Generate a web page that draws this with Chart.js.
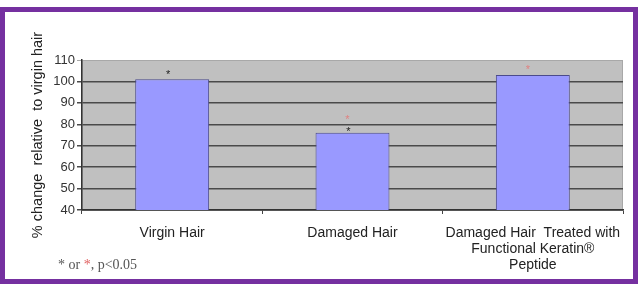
<!DOCTYPE html>
<html>
<head>
<meta charset="utf-8">
<script src="https://cdn.jsdelivr.net/npm/chart.js@4/dist/chart.umd.min.js"></script>
<style>
  body { margin: 0; background: #fff; }
  canvas { display: block; }
</style>
</head>
<body>
<canvas id="myChart" width="641" height="286"></canvas>
<script>
// values
const categories = ['Virgin Hair', 'Damaged Hair', ['Damaged Hair  Treated with', 'Functional Keratin®', 'Peptide']];
const changeValues = [101, 76, 103];
// where the significance stars sit (same y units), null = none
const blackStars = [104, 77.5, null];
const redStars = [null, 83, 106.5];
const yTicks = [40, 50, 60, 70, 80, 90, 100, 110];

const ctx = document.getElementById('myChart').getContext('2d');

const decor = {
  id: 'decor',
  beforeDraw(chart) {
    const c = chart.ctx, a = chart.chartArea;
    c.save();
    c.fillStyle = '#fff';
    c.fillRect(0, 0, chart.width, chart.height);
    c.fillStyle = '#c0c0c0';
    c.fillRect(a.left, a.top, a.right - a.left, a.bottom - a.top);
    c.strokeStyle = '#a8a8a8';
    c.lineWidth = 1;
    c.strokeRect(a.left + 0.5, a.top + 0.5, a.right - a.left - 1, a.bottom - a.top);
    c.restore();
  },
  afterDraw(chart) {
    const c = chart.ctx;
    const x = chart.scales.x, y = chart.scales.y;
    c.save();
    c.font = '11px "Liberation Sans", Arial, sans-serif';
    c.textAlign = 'center';
    c.textBaseline = 'middle';
    blackStars.forEach((v, i) => {
      if (v == null) return;
      c.fillStyle = '#222';
      c.fillText('*', x.getPixelForValue(i) - 4, y.getPixelForValue(v) + 2);
    });
    redStars.forEach((v, i) => {
      if (v == null) return;
      c.fillStyle = '#e08080';
      c.fillText('*', x.getPixelForValue(i) - 5, y.getPixelForValue(v) + 2);
    });
    // footnote
    c.font = '14px "Liberation Serif", "Times New Roman", serif';
    c.textAlign = 'left';
    c.textBaseline = 'middle';
    let px = 58;
    const parts = [['* or ', '#555'], ['*', '#e06060'], [', p<0.05', '#555']];
    parts.forEach(([t, col]) => {
      c.fillStyle = col;
      c.fillText(t, px, 265);
      px += c.measureText(t).width;
    });
    // purple frame
    c.strokeStyle = '#7530a0';
    c.lineWidth = 5;
    c.strokeRect(2.5, 9.5, 633, 272);
    c.restore();
  }
};

const chart = new Chart(ctx, {
  type: 'bar',
  data: {
    labels: categories,
    datasets: [{
      data: changeValues,
      backgroundColor: '#9999ff',
      borderColor: '#4b4b8c',
      borderWidth: 1,
      borderSkipped: 'bottom',
      barPercentage: 0.41,
      categoryPercentage: 1
    }]
  },
  options: {
    responsive: false,
    animation: false,
    layout: { padding: { left: 0, top: 60, right: 18, bottom: 0 } },
    plugins: { legend: { display: false }, tooltip: { enabled: false } },
    scales: {
      x: {
        afterFit: (s) => { s.height = 76; },
        grid: { offset: true, drawOnChartArea: false, tickLength: 4, color: '#444' },
        border: { color: '#333', width: 1.5 },
        ticks: {
          color: '#222',
          padding: 11,
          maxRotation: 0,
          autoSkip: false,
          font: { family: '"Liberation Sans", Arial, sans-serif', size: 14, lineHeight: 1.15 }
        }
      },
      y: {
        min: 40,
        max: 110,
        afterFit: (s) => { s.width = 82; },
        afterBuildTicks: (s) => { s.ticks = yTicks.map(v => ({ value: v })); },
        border: { color: '#333', width: 1.5 },
        grid: {
          color: (g) => g.tick && g.tick.value === 110 ? '#a8a8a8' : '#4a4a4a',
          lineWidth: (g) => g.tick && g.tick.value === 110 ? 1 : 1.5,
          tickLength: 5
        },
        ticks: {
          color: '#333',
          padding: 2,
          font: { family: '"Liberation Sans", Arial, sans-serif', size: 13 }
        },
        title: {
          display: true,
          text: '% change  relative  to virgin hair',
          color: '#222',
          padding: { top: 29, bottom: 0 },
          font: { family: '"Liberation Sans", Arial, sans-serif', size: 14.5 }
        }
      }
    }
  },
  plugins: [decor]
});
</script>
</body>
</html>
